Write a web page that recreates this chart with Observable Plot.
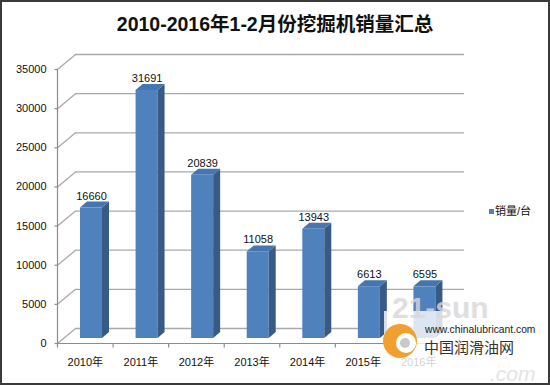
<!DOCTYPE html>
<html>
<head>
<meta charset="utf-8">
<script src="https://cdn.jsdelivr.net/npm/d3@7"></script>
<script src="https://cdn.jsdelivr.net/npm/@observablehq/plot@0.6"></script>
<style>
  html, body { margin: 0; padding: 0; background: #fff; }
  #wrap { position: relative; width: 550px; height: 385px; overflow: hidden; background: #fff;
          font-family: "Liberation Sans", "Noto Sans CJK SC", sans-serif; }
  #title { position: absolute; left: 0; top: 11px; width: 550px; text-align: center;
           font-size: 19.5px; line-height: 26px; font-weight: bold; color: #111; z-index: 2; }
  #chart { position: absolute; left: 0; top: 0; }
  #legend { position: absolute; left: 489px; top: 203px; font-size: 11px; line-height: 16px; color: #111; z-index: 2; }
  #legend span.sw { display: inline-block; width: 5px; height: 5px; background: #4f81bd; margin-right: 1px; vertical-align: 1px; }
  #wm { position: absolute; left: 0; top: 0; z-index: 3; pointer-events: none; }
  #border { position: absolute; left: 0; top: 0; width: 550px; height: 385px; box-sizing: border-box;
            border: 2px solid #3a3a3a; z-index: 4; pointer-events: none; }
</style>
</head>
<body>
<div id="wrap">
  <div id="title"></div>
  <div id="chart"></div>
  <div id="legend"></div>
  <svg id="wm" width="550" height="385"></svg>
  <div id="border"></div>
</div>
<script>
// ---- data ----
const titleText = "2010-2016年1-2月份挖掘机销量汇总";
const years = ["2010年", "2011年", "2012年", "2013年", "2014年", "2015年", "2016年"];
const sales = [16660, 31691, 20839, 11058, 13943, 6613, 6595];
const yTicks = [0, 5000, 10000, 15000, 20000, 25000, 30000, 35000];
const seriesName = "销量/台";

// ---- layout ----
const W = 550, H = 385;
const mL = 57, mR = 104, mT = 69, mB = 42;
const yMax = 35000;
const pxX = (W - mL - mR) / years.length;   // px per category
const pxY = (H - mT - mB) / yMax;           // px per unit
const wallDX = 18, wallDY = 15;             // depth of back wall (px)
const barL = 23, barW = 22, barDX = 7, barDY = 6, barLift = 5;

const rows = years.map((year, i) => ({year, i, value: sales[i]}));

const sideFace = rows.flatMap(d => {
  const R = d.i + (barL + barW) / pxX;
  return [
    {year: d.year, x: R, y1: 0, y2: d.value},
    {year: d.year, x: R + barDX / pxX, y1: barDY / pxY, y2: d.value + barDY / pxY}
  ];
});
const topFace = rows.flatMap(d => {
  const L = d.i + barL / pxX, R = d.i + (barL + barW) / pxX;
  const v = d.value, e = barDY / pxY, dd = barDX / pxX;
  return [
    {year: d.year, x: L, y1: v, y2: v},
    {year: d.year, x: L + dd, y1: v, y2: v + e},
    {year: d.year, x: R, y1: v, y2: v + e},
    {year: d.year, x: R + dd, y1: v + e, y2: v + e}
  ];
});

const grid = "#a9a9a9", axisC = "#8c8c8c";

const plot = Plot.plot({
  width: W, height: H,
  marginLeft: mL, marginRight: mR, marginTop: mT, marginBottom: mB,
  x: {type: "linear", domain: [0, years.length], axis: null},
  y: {type: "linear", domain: [0, yMax], axis: null},
  style: {fontFamily: "'Liberation Sans', 'Noto Sans CJK SC', sans-serif", fontSize: "11px", background: "transparent", overflow: "visible"},
  marks: [
    // back wall gridlines
    Plot.ruleY(yTicks, {x1: () => 0, x2: () => years.length, y: d => d, dx: wallDX, dy: -wallDY, stroke: grid, strokeWidth: 1.3}),
    // left wall diagonals
    Plot.link(yTicks, {x1: () => 0, y1: d => d, x2: () => wallDX / pxX, y2: d => d + wallDY / pxY, stroke: grid, strokeWidth: 1.3}),
    // front axis lines
    Plot.ruleX([0], {y1: () => 0, y2: () => yMax, stroke: axisC, strokeWidth: 1.2}),
    Plot.ruleY([0], {x1: () => 0, x2: () => years.length, stroke: axisC, strokeWidth: 1.2}),
    // y ticks
    Plot.link(yTicks, {x1: () => 0, x2: () => -3 / pxX, y1: d => d, y2: d => d, stroke: axisC, strokeWidth: 1.2}),
    // x ticks
    Plot.link(d3.range(years.length + 1), {x1: d => d, x2: d => d, y1: () => 0, y2: () => -4 / pxY, stroke: axisC, strokeWidth: 1.2}),
    // y labels
    Plot.text(yTicks, {x: () => 0, y: d => d, text: d => String(d), textAnchor: "end", dx: -11, fill: "#111", fontSize: 11}),
    // x labels
    Plot.text(rows, {x: d => d.i + 0.5, y: () => 0, text: "year", dy: 19, fill: "#111", fontSize: 11}),
    // bars: front, side, top
    Plot.rect(rows, {x1: d => d.i + barL / pxX, x2: d => d.i + (barL + barW) / pxX, y1: () => 0, y2: "value", dy: -barLift, fill: "#4f81bd"}),
    Plot.areaY(sideFace, {x: "x", y1: "y1", y2: "y2", z: "year", dy: -barLift, fill: "#375a86"}),
    Plot.areaY(topFace, {x: "x", y1: "y1", y2: "y2", z: "year", dy: -barLift, fill: "#4676b0"}),
    // value labels
    Plot.text(rows, {x: d => d.i + (barL + barW / 2) / pxX, y: "value", text: d => String(d.value), dy: -barLift - 12, fill: "#111", fontSize: 11})
  ]
});
document.getElementById("chart").appendChild(plot);
document.getElementById("title").textContent = titleText;
document.getElementById("legend").innerHTML = '<span class="sw"></span>' + seriesName;

// ---- watermark (site logo overlay) ----
const wm = d3.select("#wm");
wm.append("rect").attr("x", 384).attr("y", 311).attr("width", 160).attr("height", 62).attr("fill", "#fff").attr("opacity", 0.8);
wm.append("text").attr("x", 392).attr("y", 318).attr("font-size", 30).attr("font-weight", "bold")
  .attr("font-family", "Liberation Sans, sans-serif").attr("fill", "#d8d8d8").attr("opacity", 0.8).text("21-sun");
wm.append("text").attr("x", 490).attr("y", 381).attr("font-size", 21).attr("font-style", "italic")
  .attr("font-family", "Liberation Sans, sans-serif").attr("fill", "#e2e2e2").attr("opacity", 0.9).text(".com");
wm.append("circle").attr("cx", 400).attr("cy", 341).attr("r", 17).attr("fill", "#f0a030");
wm.append("circle").attr("cx", 406).attr("cy", 343).attr("r", 10).attr("fill", "#fff");
wm.append("circle").attr("cx", 405).attr("cy", 343).attr("r", 5).attr("fill", "#c9c9c9");
wm.append("text").attr("x", 425).attr("y", 333).attr("font-size", 10.3)
  .attr("font-family", "Liberation Sans, sans-serif").attr("fill", "#222").text("www.chinalubricant.com");
wm.append("text").attr("x", 424).attr("y", 353).attr("font-size", 15)
  .attr("font-family", "Noto Sans CJK SC, sans-serif").attr("fill", "#333").text("中国润滑油网");
</script>
</body>
</html>
